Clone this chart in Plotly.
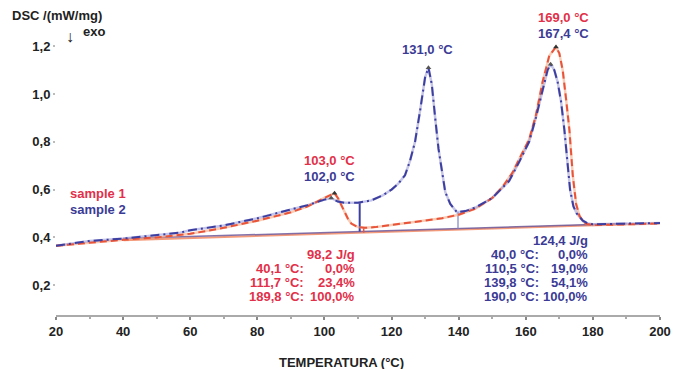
import numpy as np
import plotly.graph_objects as go

# ---- data ----
s1_T = [20, 30, 40, 50, 60, 70, 80, 90, 95, 100, 103, 104, 105, 106, 107, 108, 110, 112, 115,
        120, 125, 130, 135, 140, 145, 150, 153, 156, 159, 161, 163, 165, 167, 169, 170, 171,
        172, 173, 174, 175, 176, 177, 178, 180, 185, 190, 200]
s1_V = [0.365, 0.378, 0.39, 0.40, 0.415, 0.44, 0.47, 0.505, 0.53, 0.565, 0.585, 0.565, 0.535,
        0.505, 0.478, 0.458, 0.443, 0.44, 0.443, 0.452, 0.462, 0.47, 0.48, 0.495, 0.52, 0.565,
        0.61, 0.67, 0.75, 0.81, 0.91, 1.05, 1.16, 1.197, 1.17, 1.10, 0.98, 0.85, 0.66, 0.54,
        0.49, 0.468, 0.457, 0.452, 0.453, 0.455, 0.458]

s2_T = [20, 30, 40, 50, 57, 60, 70, 80, 90, 95, 100, 102, 104, 106, 110, 114, 117.5, 120, 122,
        124, 125.5, 127, 128.5, 130, 131, 132, 133, 134, 135, 136, 137.5, 139.5, 142, 145, 150,
        155, 158, 161, 163, 165, 166.5, 167.4, 168.5, 169.5, 170.5, 171.5, 172.5, 173.2, 174.2,
        175.2, 177, 178.5, 180, 190, 200]
s2_V = [0.365, 0.385, 0.395, 0.41, 0.42, 0.43, 0.45, 0.48, 0.515, 0.535, 0.558, 0.565, 0.55,
        0.545, 0.545, 0.555, 0.577, 0.60, 0.625, 0.66, 0.72, 0.80, 0.93, 1.07, 1.11, 1.04,
        0.90, 0.77, 0.68, 0.59, 0.54, 0.505, 0.51, 0.525, 0.565, 0.635, 0.715, 0.80, 0.90,
        1.02, 1.10, 1.125, 1.10, 1.05, 0.97, 0.85, 0.70, 0.60, 0.53, 0.50, 0.47, 0.458, 0.455,
        0.458, 0.46]

s1_base_T = [40.1, 189.8]
s1_base_V = [0.388, 0.455]
s2_base_T = [40.0, 190.0]
s2_base_V = [0.395, 0.458]

s1_split_T = [111.7]
s2_split_T = [110.5, 139.8]

s1_peaks_T = [103.0, 169.0]
s2_peaks_T = [102.0, 131.0, 167.4]

x_ticks = [20, 40, 60, 80, 100, 120, 140, 160, 180, 200]
y_ticks = [0.2, 0.4, 0.6, 0.8, 1.0, 1.2]
y_ticklabels = ["0,2", "0,4", "0,6", "0,8", "1,0", "1,2"]

s1_block = [("98,2 J/g", ""), ("40,1 °C:", "0,0%"), ("111,7 °C:", "23,4%"), ("189,8 °C:", "100,0%")]
s2_block = [("124,4 J/g", ""), ("40,0 °C:", "0,0%"), ("110,5 °C:", "19,0%"),
            ("139,8 °C:", "54,1%"), ("190,0 °C:", "100,0%")]

RED_TXT = "#e2304a"
BLUE_TXT = "#3b3b96"
RED_LN = "#e8543a"
BLUE_LN = "#3d3fa0"
FONT = "Liberation Sans, Arial, sans-serif"

# plot-area geometry (pixels)
L, R, T_, B = 56, 660, 30, 315

fig = go.Figure()

# baselines
fig.add_trace(go.Scatter(x=s1_base_T, y=s1_base_V, mode="lines",
                         line=dict(color="rgba(240,130,90,0.8)", width=2), hoverinfo="skip"))
fig.add_trace(go.Scatter(x=s2_base_T, y=s2_base_V, mode="lines",
                         line=dict(color="rgba(100,80,150,0.8)", width=1.5), hoverinfo="skip"))

# vertical split lines
for T in s1_split_T:
    fig.add_trace(go.Scatter(x=[T, T], y=[np.interp(T, s1_base_T, s1_base_V), np.interp(T, s1_T, s1_V)],
                             mode="lines", line=dict(color=RED_LN, width=1.5), hoverinfo="skip"))
for i, T in enumerate(s2_split_T):
    fig.add_trace(go.Scatter(x=[T, T], y=[np.interp(T, s2_base_T, s2_base_V), np.interp(T, s2_T, s2_V)],
                             mode="lines", line=dict(color=BLUE_LN if i == 0 else "#8a8cc8",
                                                     width=2 if i == 0 else 1.3), hoverinfo="skip"))

# halos
fig.add_trace(go.Scatter(x=s1_T, y=s1_V, mode="lines",
                         line=dict(color="rgba(245,160,120,0.55)", width=2.5), hoverinfo="skip"))
fig.add_trace(go.Scatter(x=s2_T, y=s2_V, mode="lines",
                         line=dict(color="rgba(150,150,215,0.55)", width=2.5), hoverinfo="skip"))
# dashed curves
fig.add_trace(go.Scatter(x=s1_T, y=s1_V, mode="lines",
                         line=dict(color=RED_LN, width=2, dash="7px,4px")))
fig.add_trace(go.Scatter(x=s2_T, y=s2_V, mode="lines",
                         line=dict(color=BLUE_LN, width=2, dash="9px,4px,2px,4px")))

# peak markers
fig.add_trace(go.Scatter(x=s1_peaks_T, y=list(np.interp(s1_peaks_T, s1_T, s1_V)), mode="markers",
                         marker=dict(symbol="triangle-up", size=5, color="#333")))
fig.add_trace(go.Scatter(x=s2_peaks_T, y=list(np.interp(s2_peaks_T, s2_T, s2_V)), mode="markers",
                         marker=dict(symbol="triangle-up", size=5, color="#555")))


def ann(xpix, ypix, text, color, xanchor="center", size=13):
    fig.add_annotation(x=(xpix - L) / (R - L), y=(B - ypix) / (B - T_), xref="paper", yref="paper",
                       text="<b>" + text + "</b>", showarrow=False, xanchor=xanchor, yanchor="middle",
                       borderpad=0, font=dict(family=FONT, size=size, color=color))


# labels at peaks
ann(329, 160, "103,0 °C", RED_TXT)
ann(329, 176, "102,0 °C", BLUE_TXT)
ann(427, 49, "131,0 °C", BLUE_TXT)
ann(563, 17, "169,0 °C", RED_TXT)
ann(563, 33, "167,4 °C", BLUE_TXT)

# legend-like text
ann(69, 193, "sample 1", RED_TXT, xanchor="left")
ann(69, 209, "sample 2", BLUE_TXT, xanchor="left")

# integration blocks
ys1 = [254, 268, 282, 296]
for (a, b), yy in zip(s1_block, ys1):
    if b:
        ann(305, yy, a, RED_TXT, xanchor="right")
        ann(356, yy, b, RED_TXT, xanchor="right")
    else:
        ann(356, yy, a, RED_TXT, xanchor="right")
ys2 = [240, 254, 268, 282, 296]
for (a, b), yy in zip(s2_block, ys2):
    if b:
        ann(540, yy, a, BLUE_TXT, xanchor="right")
        ann(589, yy, b, BLUE_TXT, xanchor="right")
    else:
        ann(589, yy, a, BLUE_TXT, xanchor="right")

# axis titles / exo
ann(11, 15, "DSC /(mW/mg)", "#222", xanchor="left")
ann(82, 31, "exo", "#222", xanchor="left", size=13)
ann(70, 37, "↓", "#222", size=16)
ann(341, 362, "TEMPERATURA (°C)", "#222", size=13)


def yval(pix):  # pixel row -> data value
    return (333 - pix) / 239.0


fig.update_layout(
    width=673, height=369,
    margin=dict(l=L, r=673 - R, t=T_, b=369 - B, autoexpand=False),
    paper_bgcolor="white", plot_bgcolor="white",
    showlegend=False,
    font=dict(family=FONT, size=13, color="#222"),
)
fig.update_xaxes(range=[20, 200], tickvals=x_ticks, ticktext=["<b>%d</b>" % v for v in x_ticks],
                 automargin=False,
                 showgrid=False, zeroline=False, showline=True, linecolor="#aaa", linewidth=2,
                 ticks="outside", ticklen=3, tickcolor="#888", tickwidth=2,
                 minor=dict(tickvals=[30, 50, 70, 90, 110, 130, 150, 170, 190], ticks="outside",
                            ticklen=2, tickcolor="#aaa"),
                 tickfont=dict(size=13, color="#222"))
fig.update_yaxes(range=[yval(B), yval(T_)], tickvals=y_ticks,
                 ticktext=["<b>%s</b>" % t for t in y_ticklabels],
                 automargin=False,
                 showgrid=False, zeroline=False, showline=False,
                 ticks="outside", ticklen=2, tickcolor="#bbb", tickwidth=2,
                 tickfont=dict(size=13, color="#222"))

fig.write_html("out.html", config={"displayModeBar": False},
               post_script="document.body.style.margin='0';")
